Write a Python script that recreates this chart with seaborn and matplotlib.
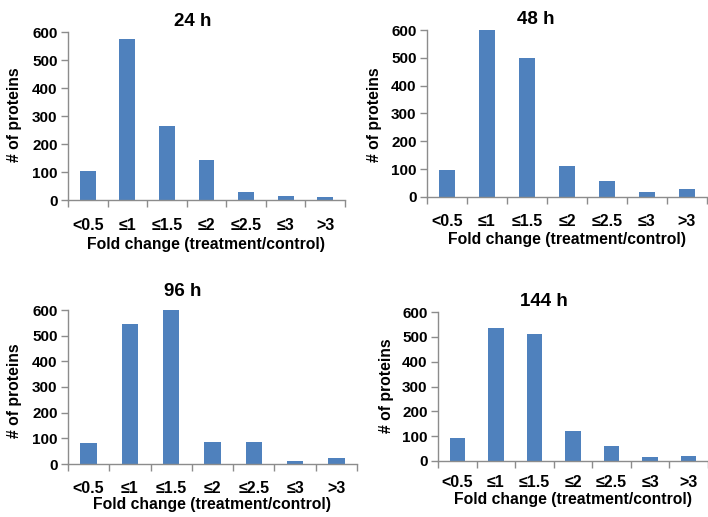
import matplotlib
matplotlib.use("Agg")
import matplotlib.pyplot as plt
import seaborn as sns
import pandas as pd

# Fold-change bins and protein counts per time point
categories = ["<0.5", "≤1", "≤1.5", "≤2", "≤2.5", "≤3", ">3"]
counts_24h = [104, 576, 265, 143, 29, 14, 11]
counts_48h = [98, 600, 498, 112, 58, 19, 30]
counts_96h = [80, 547, 605, 84, 84, 13, 24]
counts_144h = [94, 535, 511, 119, 61, 18, 22]
titles = ["24 h", "48 h", "96 h", "144 h"]
y_ticks = [0, 100, 200, 300, 400, 500, 600]

sns.set_theme(style="white")
plt.rcParams["font.family"] = ["Liberation Sans", "DejaVu Sans"]
plt.rcParams["font.weight"] = "bold"
plt.rcParams["text.color"] = "black"
plt.rcParams["axes.labelcolor"] = "black"

W, H = 708, 517
fig = plt.figure(figsize=(W / 100, H / 100), dpi=100)
fig.patch.set_facecolor("white")

# panel geometry in pixels: left, right, top, bottom; tick-label pad in points
panels = [
    dict(vals=counts_24h, box=(68, 345, 32, 200), pad=13.2, title=(193, 22), xlab=(206, 245), ylab=(15, 115)),
    dict(vals=counts_48h, box=(427, 707, 30, 197), pad=12.5, title=(536, 19), xlab=(567, 240), ylab=(374, 115)),
    dict(vals=counts_96h, box=(68, 357, 310, 464), pad=12.5, title=(183, 292), xlab=(212, 504), ylab=(15, 391)),
    dict(vals=counts_144h, box=(438, 708, 312, 461), pad=9.8, title=(544, 301), xlab=(573, 499.5), ylab=(386, 386)),
]

bar_color = "#4F81BD"
axis_color = "#8C8C8C"

for p, title in zip(panels, titles):
    l, r, t, b = p["box"]
    ax = fig.add_axes([l / W, 1 - b / H, (r - l) / W, (b - t) / H])
    df = pd.DataFrame({"bin": categories, "count": p["vals"]})
    sns.barplot(data=df, x="bin", y="count", ax=ax, color=bar_color,
                saturation=1, width=0.4, linewidth=0)
    ax.set_xlim(-0.5, len(categories) - 0.5)
    ax.set_ylim(0, 600)
    ax.set_yticks(y_ticks)
    ax.set_yticklabels([str(v) for v in y_ticks], fontsize=11, fontweight="bold")
    ax.set_xticks(range(len(categories)))
    ax.set_xticklabels(categories, fontsize=11.5, fontweight="bold")
    ax.set_xticks([i - 0.5 for i in range(len(categories) + 1)], minor=True)
    ax.tick_params(axis="x", which="major", length=0, pad=p["pad"], labelcolor="black")
    ax.tick_params(axis="x", which="minor", length=5, width=1, color=axis_color,
                   direction="out", bottom=True)
    ax.tick_params(axis="y", which="major", length=5, width=1, color=axis_color,
                   direction="out", left=True, pad=2.5, labelcolor="black")
    for s in ["top", "right"]:
        ax.spines[s].set_visible(False)
    for s in ["left", "bottom"]:
        ax.spines[s].set_color(axis_color)
        ax.spines[s].set_linewidth(1)
    ax.set_facecolor("white")
    ax.grid(False)

    ax.set_xlabel("Fold change (treatment/control)", fontsize=11.3, fontweight="bold", va="center")
    ax.xaxis.set_label_coords(p["xlab"][0] / W, 1 - p["xlab"][1] / H, transform=fig.transFigure)
    ax.set_ylabel("# of proteins", fontsize=11.3, fontweight="bold", va="center")
    ax.yaxis.set_label_coords(p["ylab"][0] / W, 1 - p["ylab"][1] / H, transform=fig.transFigure)

    fig.text(p["title"][0] / W, 1 - p["title"][1] / H, title, fontsize=13.5,
             fontweight="bold", ha="center", va="center")

fig.savefig("out.png", dpi=100, facecolor="white")
